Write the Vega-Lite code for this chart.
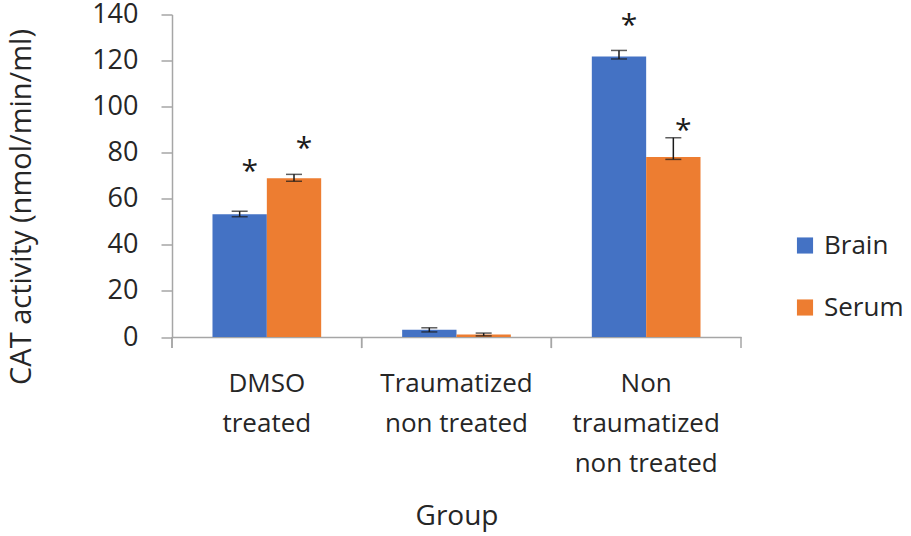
{
  "$schema": "https://vega.github.io/schema/vega-lite/v6.json",
  "autosize": {"type": "none"},
  "padding": {"left": 172, "top": 14.5, "right": 170, "bottom": 199},
  "width": 569,
  "height": 322.5,
  "background": "white",
  "config": {
    "font": "Open Sans",
    "view": {"stroke": null},
    "axis": {"labelColor": "#262626", "titleColor": "#262626", "domainColor": "#a6a6a6", "tickColor": "#a6a6a6", "domainWidth": 1.5, "tickWidth": 1.5, "grid": false, "labelFontSize": 26, "titleFontSize": 28, "titleFontWeight": "normal"},
    "legend": {"labelColor": "#262626", "labelFontSize": 26}
  },
  "data": {
    "values": [
      {"group": "DMSO treated", "series": "Brain", "value": 53.3, "lo": 52.2, "hi": 54.6, "star": 73.5},
      {"group": "DMSO treated", "series": "Serum", "value": 68.9, "lo": 67.6, "hi": 70.6, "star": 83.3},
      {"group": "Traumatized non treated", "series": "Brain", "value": 3.2, "lo": 2.2, "hi": 4.0, "star": null},
      {"group": "Traumatized non treated", "series": "Serum", "value": 1.1, "lo": 0.5, "hi": 1.7, "star": null},
      {"group": "Non traumatized non treated", "series": "Brain", "value": 121.8, "lo": 120.7, "hi": 124.4, "star": 136.9},
      {"group": "Non traumatized non treated", "series": "Serum", "value": 78.1, "lo": 77.1, "hi": 86.5, "star": 91.3}
    ]
  },
  "encoding": {
    "x": {
      "field": "group", "type": "nominal", "sort": null,
      "scale": {"paddingInner": 0, "paddingOuter": 0},
      "axis": {
        "title": "Group", "labelAngle": 0, "ticks": false,
        "labelPadding": 33, "labelLineHeight": 40, "titlePadding": 26,
        "labelExpr": "datum.label == 'DMSO treated' ? ['DMSO','treated'] : datum.label == 'Traumatized non treated' ? ['Traumatized','non treated'] : ['Non','traumatized','non treated']"
      }
    }
  },
  "layer": [
    {
      "mark": {"type": "bar"},
      "encoding": {
        "xOffset": {"field": "series", "type": "nominal", "scale": {"paddingInner": 0, "paddingOuter": 0.745}},
        "y": {
          "field": "value", "type": "quantitative",
          "scale": {"domain": [0, 140], "nice": false},
          "axis": {"title": "CAT activity (nmol/min/ml)", "values": [0, 20, 40, 60, 80, 100, 120, 140], "tickSize": 11, "labelPadding": 23, "labelFontSize": 27, "titleFontSize": 29, "titleBaseline": "middle", "titleAngle": -90, "titleX": -151, "titleY": 192}
        },
        "color": {
          "field": "series", "type": "nominal",
          "scale": {"domain": ["Brain", "Serum"], "range": ["#4472C4", "#ED7D31"]},
          "legend": {"title": null, "orient": "none", "legendX": 620, "legendY": 218, "symbolType": "square", "symbolSize": 260, "symbolStrokeWidth": 0, "rowPadding": 36, "labelOffset": 6, "padding": 0}
        }
      }
    },
    {
      "mark": {"type": "rule", "color": "#a6a6a6", "strokeWidth": 1.5},
      "encoding": {"x": {"field": "group", "type": "nominal", "sort": null, "bandPosition": 0}, "y": {"datum": 0}, "y2": {"datum": -4.8}}
    },
    {
      "transform": [{"filter": "datum.group == 'Non traumatized non treated' && datum.series == 'Brain'"}],
      "mark": {"type": "rule", "color": "#a6a6a6", "strokeWidth": 1.5},
      "encoding": {"x": {"field": "group", "type": "nominal", "sort": null, "bandPosition": 1}, "y": {"datum": 0}, "y2": {"datum": -4.8}}
    },
    {
      "mark": {"type": "rule", "color": "#1a1a1a", "strokeWidth": 1.5},
      "encoding": {"xOffset": {"field": "series", "type": "nominal"}, "y": {"field": "lo", "type": "quantitative"}, "y2": {"field": "hi"}}
    },
    {
      "mark": {"type": "tick", "color": "#1a1a1a", "size": 16, "thickness": 1.5, "orient": "horizontal"},
      "encoding": {"xOffset": {"field": "series", "type": "nominal"}, "y": {"field": "lo", "type": "quantitative"}}
    },
    {
      "mark": {"type": "tick", "color": "#1a1a1a", "size": 16, "thickness": 1.5, "orient": "horizontal"},
      "encoding": {"xOffset": {"field": "series", "type": "nominal"}, "y": {"field": "hi", "type": "quantitative"}}
    },
    {
      "transform": [{"filter": "datum.star != null"}],
      "mark": {"type": "text", "text": "*", "fontSize": 30, "color": "#1a1a1a", "baseline": "middle", "dx": 10, "dy": 4},
      "encoding": {"xOffset": {"field": "series", "type": "nominal"}, "y": {"field": "star", "type": "quantitative"}}
    }
  ]
}
